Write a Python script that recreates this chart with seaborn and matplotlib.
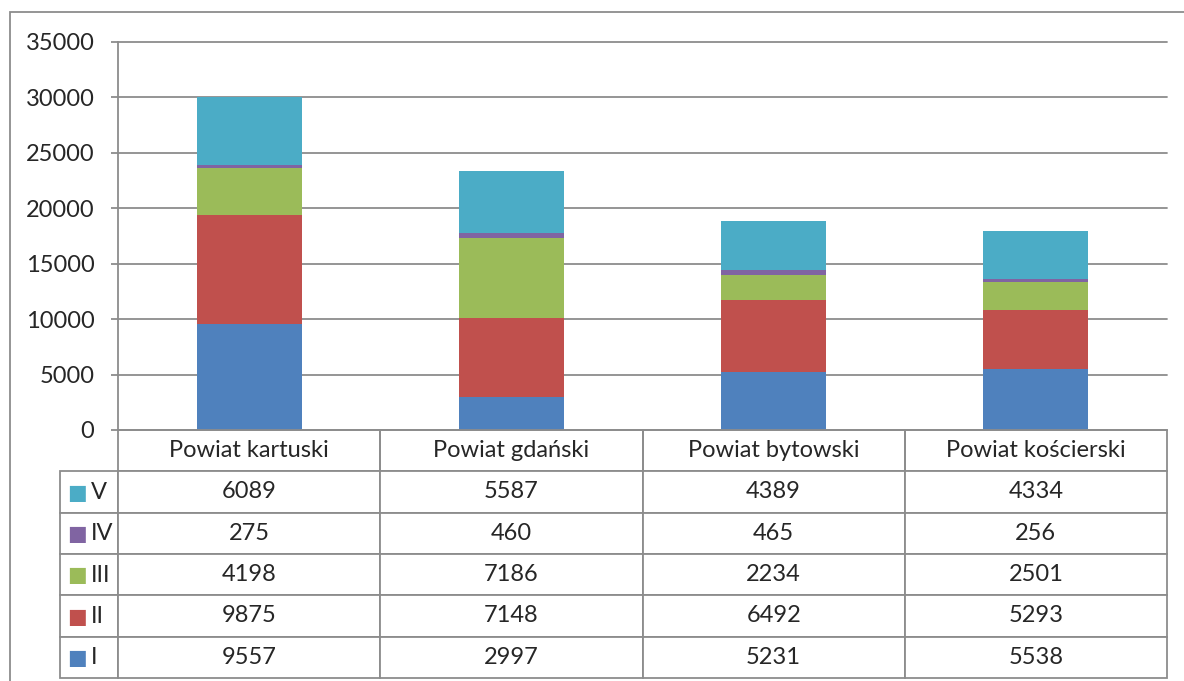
import numpy as np
import pandas as pd
import matplotlib
matplotlib.use('Agg')
import matplotlib.pyplot as plt
import seaborn as sns
from matplotlib.patches import Rectangle

# data
powiaty = ['Powiat kartuski', 'Powiat gdański', 'Powiat bytowski', 'Powiat kościerski']
series = ['I', 'II', 'III', 'IV', 'V']
val_I = [9557, 2997, 5231, 5538]
val_II = [9875, 7148, 6492, 5293]
val_III = [4198, 7186, 2234, 2501]
val_IV = [275, 460, 465, 256]
val_V = [6089, 5587, 4389, 4334]
colors = ['#4F81BD', '#C0504D', '#9BBB59', '#8064A2', '#4BACC6']

df = pd.DataFrame({'I': val_I, 'II': val_II, 'III': val_III, 'IV': val_IV, 'V': val_V},
                  index=powiaty)
cum = df.cumsum(axis=1)

sns.set_style('white')
plt.rcParams['font.family'] = ['Lato', 'DejaVu Sans']
grid_col = '#8c8c8c'
fs = 17

fig = plt.figure(figsize=(11.84, 6.81), dpi=100)
W, H = 1184, 681
ax = fig.add_axes([118 / W, 1 - 430 / H, 1049 / W, 388 / H])

# outer frame
fig.patches.append(Rectangle((10 / W, -0.1), 1.2, (H - 12) / H + 0.1, transform=fig.transFigure,
                             fill=False, edgecolor=grid_col, lw=1.3))

# stacked bars: draw the cumulative totals from the top series down
for s, c in zip(reversed(series), reversed(colors)):
    sns.barplot(x=powiaty, y=cum[s].values, color=c, width=0.4, saturation=1,
                edgecolor='none', ax=ax)

ax.set_ylim(0, 35000)
ax.set_yticks(range(0, 35001, 5000))
ax.yaxis.grid(True, color=grid_col, lw=1.3)
for gl in ax.get_ygridlines():
    gl.set_clip_on(False)
ax.set_axisbelow(True)
ax.set_xticklabels([])
ax.tick_params(axis='x', bottom=False, labelbottom=False)
ax.tick_params(axis='y', left=True, length=5, width=1.3, color=grid_col, labelsize=fs, pad=12)
ax.set_xlabel('')
ax.set_ylabel('')
for side in ['top', 'right']:
    ax.spines[side].set_visible(False)
for side in ['left', 'bottom']:
    ax.spines[side].set_color(grid_col)
    ax.spines[side].set_linewidth(1.3)

# data table below the plot
rows_order = list(reversed(series))
cell_text = [[''] + [str(v) for v in df[s]] for s in rows_order]
col_w = [58] + [262.25] * 4
tot = sum(col_w)
tbl = ax.table(cellText=cell_text, colLabels=[''] + powiaty, cellLoc='center',
               colWidths=[w / tot for w in col_w],
               bbox=[-58 / 1049, -248 / 388, 1107 / 1049, 248 / 388])
tbl.auto_set_font_size(False)
tbl.set_fontsize(fs)
for (r, c), cell in tbl.get_celld().items():
    cell.set_edgecolor(grid_col)
    cell.set_linewidth(1.3)
    if r == 0:
        cell.visible_edges = '' if c == 0 else 'BLR'

row_h = 248 / 6
for i, s in enumerate(rows_order):
    yc = -(41 + row_h * (i + 0.5) + 1) / 388
    col = colors[series.index(s)]
    ax.text(-41 / 1049, yc, '■', color=col, fontsize=15, ha='center', va='center',
            transform=ax.transAxes, family=['DejaVu Sans'])
    ax.text(-27 / 1049, yc, s, fontsize=fs, ha='left', va='center', transform=ax.transAxes)

fig.savefig('out.png', dpi=100)
